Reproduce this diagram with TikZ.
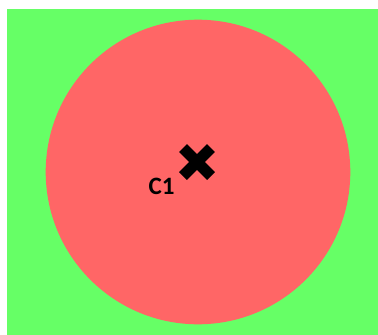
\documentclass[tikz,border=0pt]{standalone}
\usepackage{fontspec}
\setmainfont{Carlito}
\usepackage{xcolor}
\usetikzlibrary{positioning,calc}
\definecolor{fieldgreen}{HTML}{66FF66}
\definecolor{zonered}{HTML}{FF6666}

\begin{document}
\begin{tikzpicture}[x=1pt, y=-1pt,
    crossarm/.style={line width=11pt, line cap=butt, black}]
  \useasboundingbox (0,0) rectangle (378,335);
  \fill[fieldgreen] (7,9) rectangle (378,335);
  \fill[zonered] (198,172) circle (152.3);
  \coordinate (c1) at (197,162);
  \draw[crossarm] ($(c1)+(-14,-14)$) -- ($(c1)+(14,14)$);
  \draw[crossarm] ($(c1)+(-14,14)$) -- ($(c1)+(14,-14)$);
  \node[font=\fontsize{25}{25}\selectfont\bfseries, inner sep=0pt] (c1label) at (161.5,186.5) {C1};
\end{tikzpicture}
\end{document}
